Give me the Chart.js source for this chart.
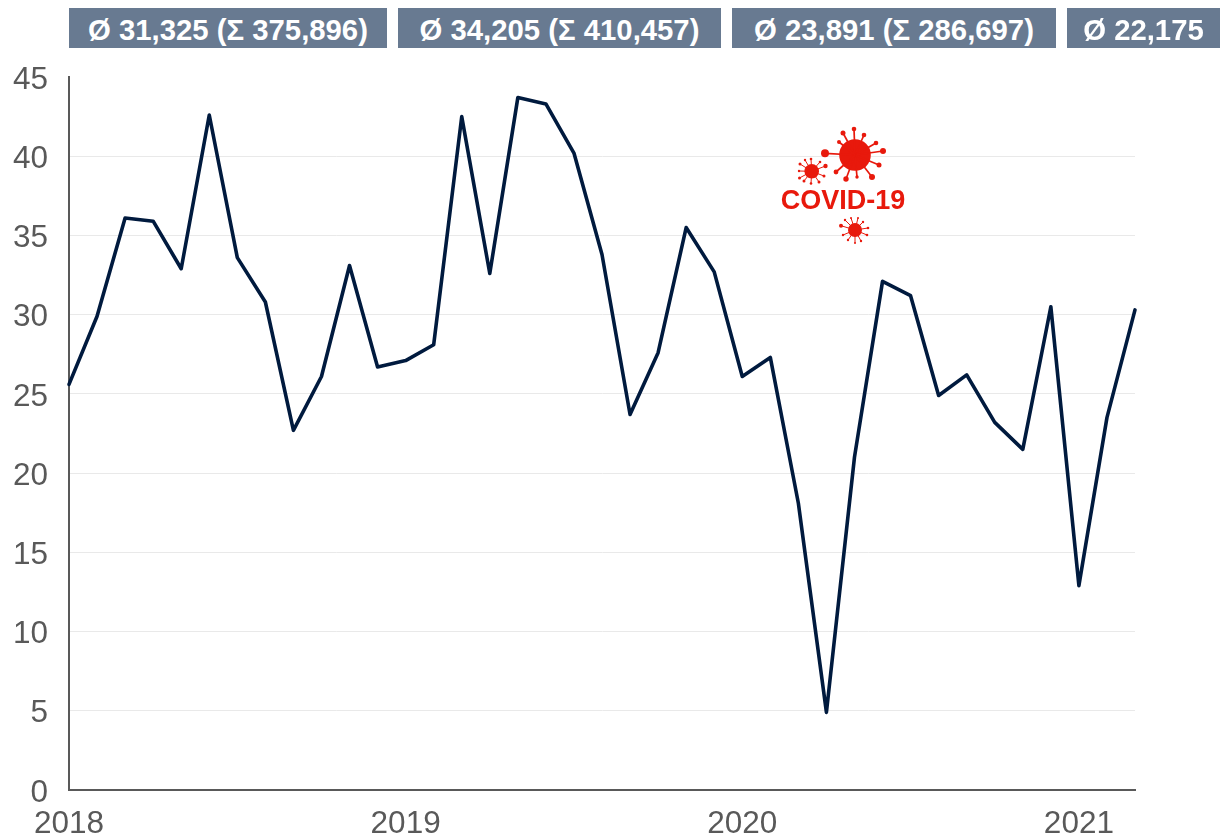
<!DOCTYPE html>
<html><head><meta charset="utf-8">
<script src="https://cdn.jsdelivr.net/npm/chart.js@4"></script>
<style>
html,body{margin:0;padding:0;background:#fff;width:1226px;height:838px;overflow:hidden;font-family:"Liberation Sans",Arial,sans-serif}
#wrap{position:relative;width:1226px;height:838px}
canvas{position:absolute;left:0;top:0}
.band{position:absolute;top:8px;height:40px;line-height:43px;background:#687a91;color:#fff;font-weight:bold;font-size:29.3px;text-align:center;white-space:nowrap;overflow:hidden}
#covid{position:absolute;left:743px;top:184px;width:200px;text-align:center;color:#e8190c;font-weight:bold;font-size:27px;line-height:33px}
svg.v{position:absolute;overflow:visible}
</style></head><body>
<div id="wrap">
<canvas id="c" width="1226" height="838"></canvas>
<div class="band" style="left:69px;width:318px">Ø 31,325 (Σ 375,896)</div>
<div class="band" style="left:398px;width:323px">Ø 34,205 (Σ 410,457)</div>
<div class="band" style="left:732px;width:324px">Ø 23,891 (Σ 286,697)</div>
<div class="band" style="left:1067px;width:153px">Ø 22,175</div>
<div id="covid">COVID-19</div>
<svg class="v" id="icons" width="1226" height="838" style="left:0;top:0"></svg>
</div>
<script>
const months = ['2018-01','2018-02','2018-03','2018-04','2018-05','2018-06','2018-07','2018-08','2018-09','2018-10','2018-11','2018-12',
'2019-01','2019-02','2019-03','2019-04','2019-05','2019-06','2019-07','2019-08','2019-09','2019-10','2019-11','2019-12',
'2020-01','2020-02','2020-03','2020-04','2020-05','2020-06','2020-07','2020-08','2020-09','2020-10','2020-11','2020-12',
'2021-01','2021-02','2021-03'];
const values = [25.6,29.9,36.1,35.9,32.9,42.6,33.6,30.8,22.7,26.1,33.1,26.7,
27.1,28.1,42.5,32.6,43.7,43.3,40.2,33.8,23.7,27.6,35.5,32.7,
26.1,27.3,18.1,4.9,21.0,32.1,31.2,24.9,26.2,23.2,21.5,30.5,
12.9,23.5,30.3];
const yTicks = [0,5,10,15,20,25,30,35,40,45];

const nudgeYLabels = {id:'nudgeYLabels',beforeDraw(chart){
  const s=chart.scales.y;
  if(s.$nudged) return;
  s.getLabelItems(chart.chartArea).forEach(it=>{it.options.translation[1]+=3;});
  s.$nudged=true;
}};

Chart.defaults.font.family = '"Liberation Sans",Arial,sans-serif';
new Chart(document.getElementById('c'),{
  type:'line',
  plugins:[nudgeYLabels],
  data:{labels:months,datasets:[{data:values,borderColor:'#001a3e',borderWidth:3.6,pointRadius:0,tension:0,fill:false,clip:false,borderJoinStyle:'round',borderCapStyle:'round'}]},
  options:{
    responsive:false,animation:false,
    layout:{padding:{top:77,right:91,left:0,bottom:0}},
    plugins:{legend:{display:false},tooltip:{enabled:false}},
    scales:{
      x:{type:'category',offset:false,
        afterFit(s){s.height=48;},
        grid:{display:false,drawTicks:false},
        border:{display:true,color:'#595959',width:2},
        ticks:{autoSkip:false,maxRotation:0,minRotation:0,padding:15,color:'#595959',font:{size:31.5},
          callback(v,i){const m=months[i];return m.endsWith('-01')?m.slice(0,4):'';}}
      },
      y:{min:0,max:45,
        afterFit(s){s.width=69;},
        afterBuildTicks(s){s.ticks=yTicks.map(v=>({value:v}));},
        grid:{drawTicks:false,color(ctx){const v=ctx.tick&&ctx.tick.value;return (v===45||v===0)?'rgba(0,0,0,0)':'#e9e9e9';},lineWidth:1},
        border:{display:true,color:'#595959',width:2},
        ticks:{padding:21,color:'#595959',font:{size:31.5}}
      }
    }
  }
});

const red='#e8190c';
function virus(cx,cy,r,tips,sw){
  let s=`<circle cx="${cx}" cy="${cy}" r="${r}" fill="${red}"/>`;
  for(const [x,y,b] of tips){
    s+=`<line x1="${cx}" y1="${cy}" x2="${x}" y2="${y}" stroke="${red}" stroke-width="${sw}"/><circle cx="${x}" cy="${y}" r="${b}" fill="${red}"/>`;
  }
  return s;
}
const big=[[825,153.3,4],[843,133,2.5],[854,129,2.3],[864,135,2.3],[876,143,2.3],[883,151,3],[879,165,2.5],[872,177,3],[857,177,1.7],[846,179,2.7],[836,172,2.4],[839,142,2]];
const small=[[820,162,1.3],[825.5,166,2.2],[824,176,1.5],[819,182,1.5],[811,183.5,1.3],[804,181,1.5],[799.5,178,1.5],[799,171,1.2],[800,164,1.5],[805,160,1.2],[811,159,1.3]];
const tiny=[[841,225.7,2],[845,220,1.2],[851,218,1],[858,218,1],[863,222,1.2],[868,228,1.3],[867,235,1.3],[861,241,1.2],[855,243,1],[848,240,1.2],[843,235,1.2]];
document.getElementById('icons').innerHTML=virus(855,155,15.8,big,1.7)+virus(811.7,171.3,7.3,small,1)+virus(855,230,7,tiny,1);
</script>
</body></html>
